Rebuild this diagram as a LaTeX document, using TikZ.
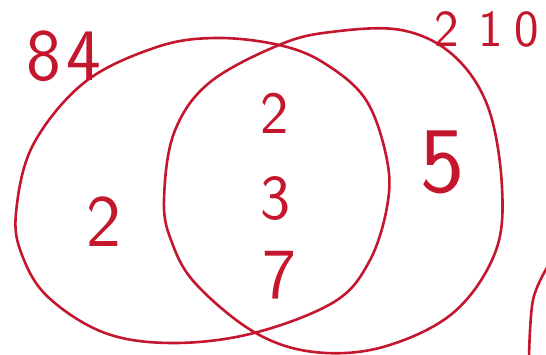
\documentclass[tikz,border=0pt]{standalone}
\definecolor{pen}{RGB}{196,22,44}
\tikzset{
  stroke/.style={draw=pen, line width=2.6pt, line cap=round, line join=round},
  digit/.style={text=pen, font=\sffamily, inner sep=0pt}
}
\begin{document}
\begin{tikzpicture}[x=1pt, y=-1pt]
\useasboundingbox (0,0) rectangle (546,355);
% left set (84)
\draw[stroke] plot[smooth cycle, tension=0.6] coordinates {
 (16,213) (33,145) (85,82) (157,47) (216,38) (279,45) (324,63) (366,100)
 (387,160) (387,207) (369,262) (334,302) (254,333) (174,343) (105,333)
 (48,297) (22,255)};
% right set (210)
\draw[stroke] plot[smooth cycle, tension=0.6] coordinates {
 (164,200) (174,133) (209,83) (279,45) (331,32) (401,30) (453,55) (488,107)
 (502,187) (495,253) (453,313) (383,347) (314,352) (254,332) (195,283)
 (171,240)};
% partial curve at bottom right
\draw[stroke] plot[smooth, tension=0.6] coordinates {(548,266) (533,300) (529,357)};
% labels
\node[digit, font=\sffamily\fontsize{74}{74}\selectfont] (l84) at (64,56) {8\hspace{6pt}4};
\node[digit, font=\sffamily\fontsize{52}{52}\selectfont, anchor=west] (l210) at (434,29) {2\hspace{20pt}1\hspace{11pt}0};
% regions
\node[digit, font=\sffamily\fontsize{74}{74}\selectfont] (a) at (104,222) {2};
\node[digit, font=\sffamily\fontsize{60}{60}\selectfont] (b) at (275,113) {2};
\node[digit, font=\sffamily\fontsize{64}{64}\selectfont] (c) at (276,199) {3};
\node[digit, font=\sffamily\fontsize{72}{72}\selectfont] (d) at (279,275) {7};
\node[digit, font=\sffamily\fontsize{94}{94}\selectfont] (e) at (443,162) {5};
\end{tikzpicture}
\end{document}
